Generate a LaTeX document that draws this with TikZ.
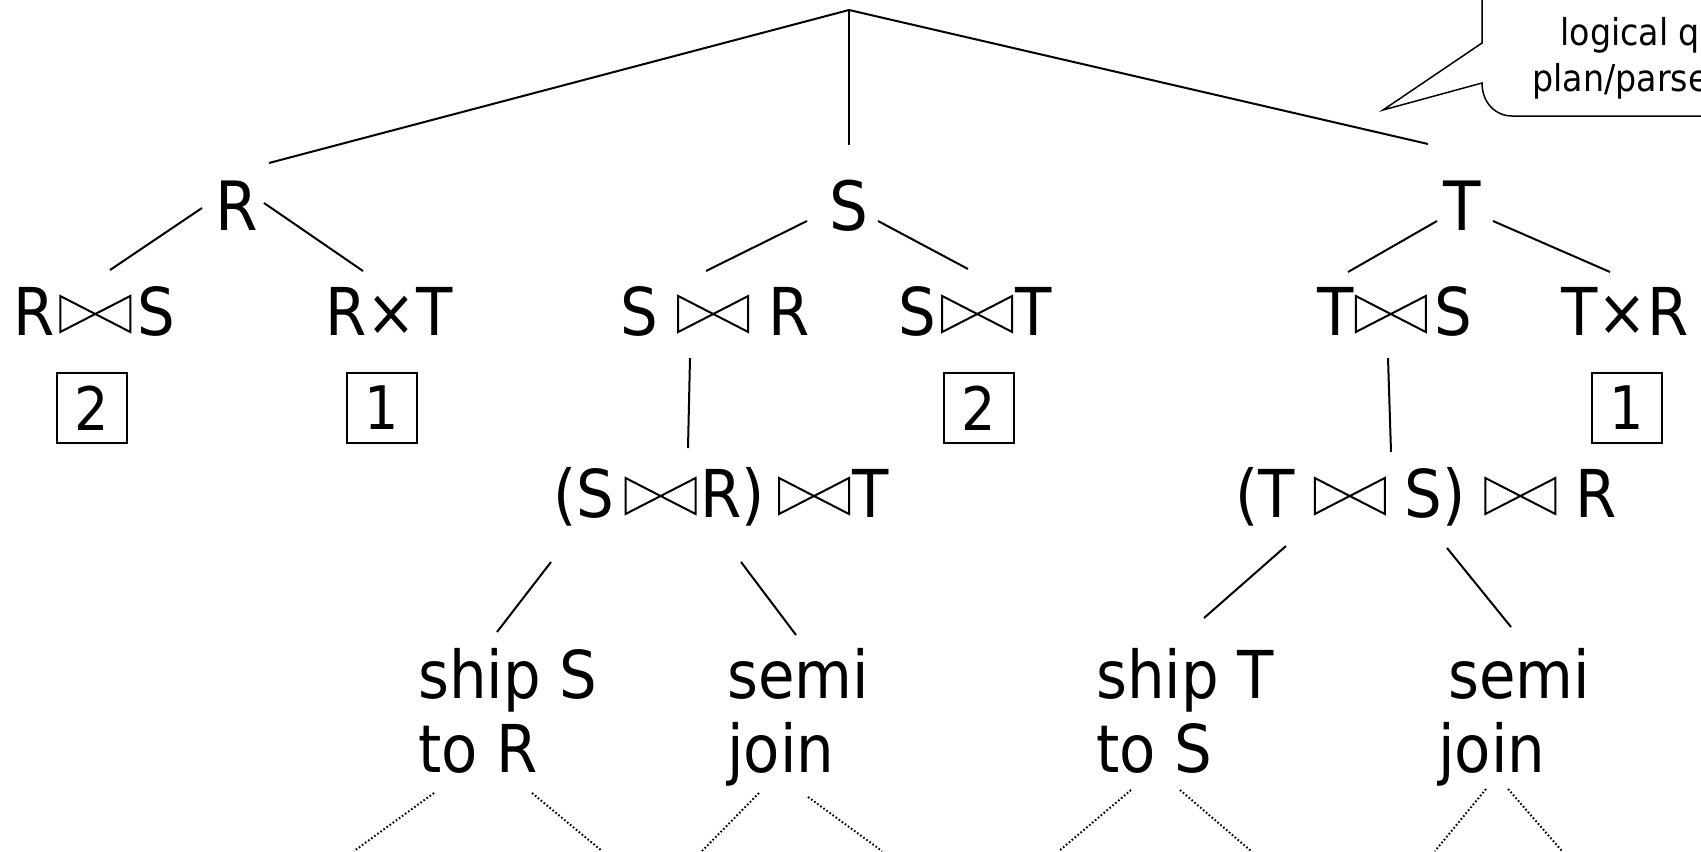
\documentclass[tikz,border=0pt]{standalone}
\usepackage{fontspec}
\setmainfont{DejaVu Sans Condensed}
% outlined bowtie (natural join) drawn as two triangles
\newcommand\bowt{\tikz[baseline=0pt]\draw[line width=1pt,line join=miter]
  (0pt,1.5pt) -- (0pt,19.5pt) -- (35pt,1.5pt) -- (35pt,19.5pt) -- cycle;}
\tikzset{
  lbl/.style={font=\fontsize{33}{37}\selectfont, inner sep=0pt, anchor=base},
  toplbl/.style={lbl, font=\fontsize{34}{40}\selectfont},
  multi/.style={lbl, anchor=base west},
  numbox/.style={draw, line width=1pt, minimum size=35pt, inner sep=0pt,
    font=\fontsize{30}{36}\selectfont},
  treeedge/.style={line width=1pt},
  dotedge/.style={line width=1pt, dash pattern=on 0.8pt off 1.1pt},
}
\begin{document}
\begin{tikzpicture}[x=0.5pt,y=-0.5pt]
\useasboundingbox (0,0) rectangle (1701,851);

% root and first level
\coordinate (apex) at (849,10);
\node[toplbl] (R) at (237,230) {R};
\node[toplbl] (S) at (849,230) {S};
\node[toplbl] (T) at (1462,230) {T};

% second level
\node[lbl] (RjS) at (94,335)   {R\hspace{2.5pt}\bowt\hspace{3pt}S};
\node[lbl] (RxT) at (389,335)  {R×T};
\node[lbl] (SjR) at (715,335)  {S \bowt{} R};
\node[lbl] (SjT) at (975,335)  {S\hspace{2.5pt}\bowt\hspace{1pt}T};
\node[lbl] (TjS) at (1395,335) {T\hspace{0.5pt}\bowt\hspace{4pt}S};
\node[lbl] (TxR) at (1625,335) {T×R};

% cost boxes
\node[numbox] (b1) at (92,408)   {2};
\node[numbox] (b2) at (382,408)  {1};
\node[numbox] (b3) at (979,408)  {2};
\node[numbox] (b4) at (1627,408) {1};

% third level
\node[lbl] (SRT) at (721,517)
  {(S\hspace{5pt}\bowt\hspace{2pt}R)\hspace{6.5pt}\bowt\hspace{1pt}T};
\node[lbl] (TSR) at (1426,517) {(T \bowt{} S) \bowt{} R};

% strategies
\node[multi] (ship1) at (418,698)  {\begin{tabular}[t]{@{}l@{}}ship S\\to R\end{tabular}};
\node[multi] (semi1) at (727,698)  {\begin{tabular}[t]{@{}l@{}}semi\\join\end{tabular}};
\node[multi] (ship2) at (1096,698) {\begin{tabular}[t]{@{}l@{}}ship T\\to S\end{tabular}};
\node[multi] (semi2) at (1438,698) {\begin{tabular}[t]{@{}l@{}}\hspace{5pt}semi\\join\end{tabular}};

% tree edges
\draw[treeedge] (apex) -- ([shift={(32,-67)}]R.base);
\draw[treeedge] (apex) -- ([shift={(0,-85)}]S.base);
\draw[treeedge] (apex) -- ([shift={(-34,-86)}]T.base);

\draw[treeedge] ([shift={(-35,-22)}]R.base) -- ([shift={(16,-65)}]RjS.base);
\draw[treeedge] ([shift={(27,-27)}]R.base)  -- ([shift={(-26,-64)}]RxT.base);
\draw[treeedge] ([shift={(-42,-9)}]S.base)  -- ([shift={(-9,-64)}]SjR.base);
\draw[treeedge] ([shift={(29,-9)}]S.base)   -- ([shift={(-7,-66)}]SjT.base);
\draw[treeedge] ([shift={(-25,-9)}]T.base)  -- ([shift={(-47,-63)}]TjS.base);
\draw[treeedge] ([shift={(31,-9)}]T.base)   -- ([shift={(-15,-63)}]TxR.base);

\draw[treeedge] ([shift={(-25,23)}]SjR.base) -- ([shift={(-33,-69)}]SRT.base);
\draw[treeedge] ([shift={(-7,23)}]TjS.base)  -- ([shift={(-35,-65)}]TSR.base);

\draw[treeedge] ([shift={(-170,45)}]SRT.base) -- ([shift={(79,-66)}]ship1.base west);
\draw[treeedge] ([shift={(20,45)}]SRT.base)   -- ([shift={(69,-63)}]semi1.base west);
\draw[treeedge] ([shift={(-140,29)}]TSR.base) -- ([shift={(108,-80)}]ship2.base west);
\draw[treeedge] ([shift={(21,31)}]TSR.base)   -- ([shift={(73,-71)}]semi2.base west);

% dotted continuations below the strategies
\coordinate (e1) at (354,851);  \coordinate (e2) at (602,851);
\coordinate (e3) at (702,851);  \coordinate (e4) at (882,851);
\coordinate (e5) at (1059,851); \coordinate (e6) at (1251,851);
\coordinate (e7) at (1435,851); \coordinate (e8) at (1562,851);
\draw[dotedge] ([shift={(16,95)}]ship1.base west)  -- (e1);
\draw[dotedge] ([shift={(114,95)}]ship1.base west) -- (e2);
\draw[dotedge] ([shift={(32,95)}]semi1.base west)  -- (e3);
\draw[dotedge] ([shift={(81,99)}]semi1.base west)  -- (e4);
\draw[dotedge] ([shift={(35,92)}]ship2.base west)  -- (e5);
\draw[dotedge] ([shift={(84,92)}]ship2.base west)  -- (e6);
\draw[dotedge] ([shift={(48,91)}]semi2.base west)  -- (e7);
\draw[dotedge] ([shift={(70,91)}]semi2.base west)  -- (e8);

% speech-bubble callout in the corner
\draw[line width=0.75pt, line join=miter]
  (1482,-5) -- (1482,43) -- (1383,110) -- (1482,83)
  .. controls (1482,102.6) and (1495.4,116) .. (1512,116) -- (1712,116);
\node[anchor=base west, inner sep=0pt, font=\fontsize{18.5}{23}\selectfont] (callout)
  at (1532,46) {\begin{tabular}[t]{@{}l@{}}\hspace{14pt}logical q\\plan/parse\end{tabular}};
\end{tikzpicture}
\end{document}
